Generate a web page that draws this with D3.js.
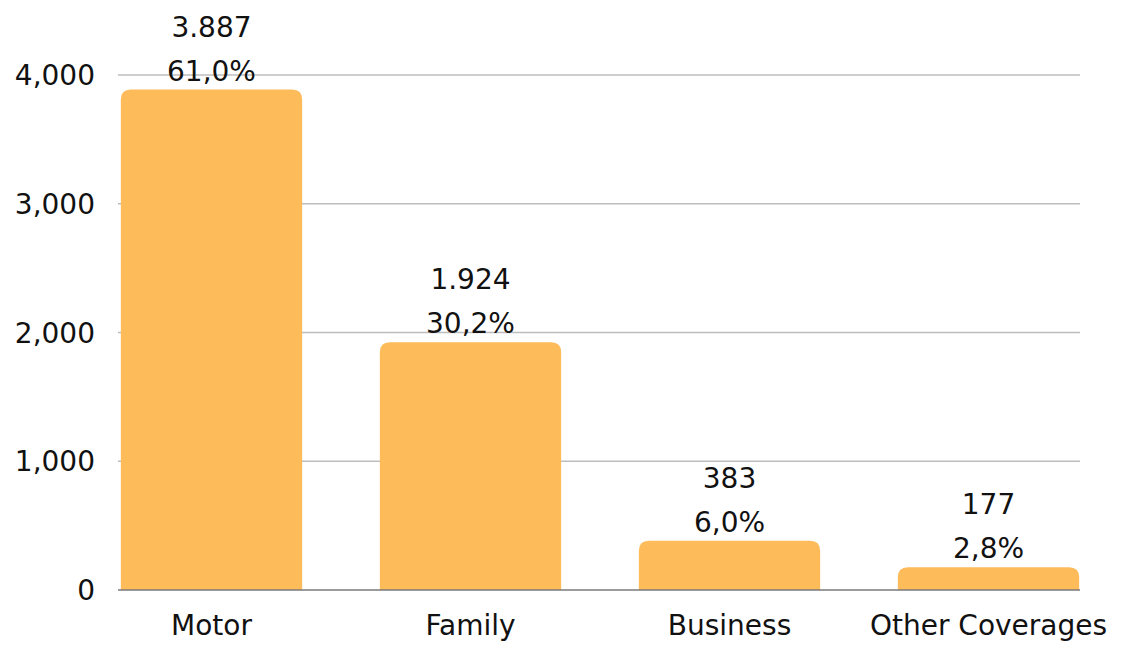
<!DOCTYPE html>
<html>
<head>
<meta charset="utf-8">
<script src="https://d3js.org/d3.v7.min.js"></script>
<style>
  body { margin: 0; background: #fff; }
  text { font-family: "DejaVu Sans", Lato, sans-serif; fill: #111; }
</style>
</head>
<body>
<script>
// data
const categories = ["Motor", "Family", "Business", "Other Coverages"];
const values = [3887, 1924, 383, 177];
const valueLabels = ["3.887", "1.924", "383", "177"];
const pctLabels = ["61,0%", "30,2%", "6,0%", "2,8%"];
const yTicks = [0, 1000, 2000, 3000, 4000];

const width = 1127, height = 645;
const fs = "28px";
const svg = d3.select("body").append("svg")
  .attr("width", width)
  .attr("height", height);

const x = d3.scaleBand()
  .domain(categories)
  .range([82, 1118])
  .paddingInner(0.3)
  .paddingOuter(0.15);

const y = d3.scaleLinear()
  .domain([0, 4000])
  .range([590, 75]);

const gridLeft = 118, gridRight = 1080;

// gridlines
svg.append("g").selectAll("line")
  .data(yTicks.filter(d => d > 0))
  .enter().append("line")
  .attr("x1", gridLeft).attr("x2", gridRight)
  .attr("y1", d => y(d)).attr("y2", d => y(d))
  .attr("stroke", "#bdbdbd").attr("stroke-width", 1.3);

// y tick labels
svg.append("g").selectAll("text")
  .data(yTicks)
  .enter().append("text")
  .attr("x", 95)
  .attr("y", d => y(d) + 10)
  .attr("text-anchor", "end")
  .style("font-size", fs)
  .text(d => d3.format(",")(d));

// bars with rounded top corners
const r = 10;
function barPath(d, i) {
  const x0 = x(categories[i]), w = x.bandwidth();
  const y0 = y(d), y1 = y(0);
  const rr = Math.min(r, (y1 - y0));
  return `M${x0},${y1} V${y0 + rr} Q${x0},${y0} ${x0 + rr},${y0} H${x0 + w - rr} Q${x0 + w},${y0} ${x0 + w},${y0 + rr} V${y1} Z`;
}
svg.append("g").selectAll("path")
  .data(values)
  .enter().append("path")
  .attr("d", barPath)
  .attr("fill", "#FDBB5A");

// baseline
svg.append("line")
  .attr("x1", gridLeft).attr("x2", gridRight)
  .attr("y1", y(0)).attr("y2", y(0))
  .attr("stroke", "#7a7a7a").attr("stroke-width", 1.3);

// value labels
const lab = svg.append("g");
values.forEach((v, i) => {
  const cx = x(categories[i]) + x.bandwidth() / 2;
  lab.append("text")
    .attr("x", cx).attr("y", y(v) - 53)
    .attr("text-anchor", "middle")
    .style("font-size", fs)
    .text(valueLabels[i]);
  lab.append("text")
    .attr("x", cx).attr("y", y(v) - 9)
    .attr("text-anchor", "middle")
    .style("font-size", fs)
    .text(pctLabels[i]);
});

// x axis labels
svg.append("g").selectAll("text")
  .data(categories)
  .enter().append("text")
  .attr("x", d => x(d) + x.bandwidth() / 2)
  .attr("y", 635)
  .attr("text-anchor", "middle")
  .style("font-size", fs)
  .text(d => d);
</script>
</body>
</html>
